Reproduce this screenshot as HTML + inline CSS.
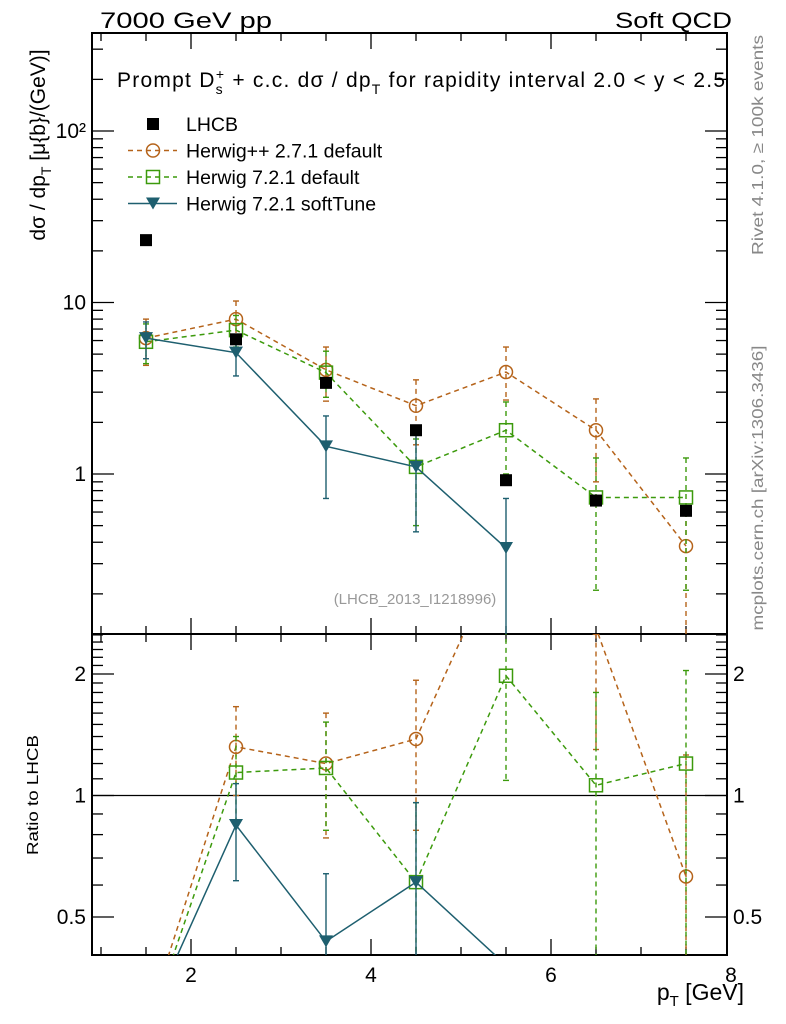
<!DOCTYPE html>
<html><head><meta charset="utf-8"><style>
html,body{margin:0;padding:0;background:#fff;overflow:hidden;width:786px;height:1024px}
svg{display:block;font-family:"Liberation Sans",sans-serif}
</style></head><body>
<svg id="chart" width="786" height="1024" viewBox="0 0 786 1024" xmlns="http://www.w3.org/2000/svg">
<defs>
<clipPath id="cm"><rect x="92" y="33" width="635" height="601"/></clipPath>
<clipPath id="cr"><rect x="92" y="634" width="635" height="321"/></clipPath>
</defs>
<text x="100" y="28" font-size="22" textLength="172" lengthAdjust="spacingAndGlyphs">7000 GeV pp</text>
<text x="732" y="28" font-size="22" text-anchor="end" textLength="117" lengthAdjust="spacingAndGlyphs">Soft QCD</text>
<text transform="translate(763,145) rotate(-90)" font-size="16" fill="#888" text-anchor="middle" textLength="220" lengthAdjust="spacingAndGlyphs">Rivet 4.1.0, ≥ 100k events</text>
<text transform="translate(763,488) rotate(-90)" font-size="16" fill="#888" text-anchor="middle" textLength="285" lengthAdjust="spacingAndGlyphs">mcplots.cern.ch [arXiv:1306.3436]</text>
<text transform="translate(45,145) rotate(-90)" font-size="21" text-anchor="middle">dσ / dp<tspan font-size="14" dy="6">T</tspan><tspan dy="-6"> [μ{b}/(GeV)]</tspan></text>
<text transform="translate(38,795) rotate(-90)" font-size="16" text-anchor="middle" textLength="120" lengthAdjust="spacingAndGlyphs">Ratio to LHCB</text>
<text x="744" y="1000" font-size="23" text-anchor="end">p<tspan font-size="15" dy="6">T</tspan><tspan dy="-6"> [GeV]</tspan></text>
<text x="117" y="87" font-size="21" textLength="608" lengthAdjust="spacing">Prompt D<tspan font-size="14" dy="7">s</tspan><tspan font-size="14" dx="-8" dy="-15">+</tspan><tspan dy="8"> + c.c.  dσ / dp</tspan><tspan font-size="14" dy="7">T</tspan><tspan dy="-7"> for rapidity interval 2.0 &lt; y &lt; 2.5</tspan></text>
<text x="415" y="604" font-size="15" fill="#999" text-anchor="middle">(LHCB_2013_I1218996)</text>
<g id="axes"></g>
<g id="series-main" clip-path="url(#cm)"></g>
<g id="series-ratio" clip-path="url(#cr)"></g>
<g id="legend"></g>
</svg>
<script>
const xs = [1.5, 2.5, 3.5, 4.5, 5.5, 6.5, 7.5];
const lhcb = [23.1, 6.1, 3.4, 1.8, 0.92, 0.70, 0.61];
const hpp = [6.2, 8.0, 4.05, 2.5, 3.93, 1.8, 0.38];
const hppUp = [8.0, 10.2, 5.5, 3.54, 5.5, 2.74, 0.6];
const hppLo = [4.3, 6.2, 2.66, 1.48, 2.7, 0.9, 0.01];
const h72 = [5.9, 6.9, 3.9, 1.1, 1.8, 0.73, 0.73];
const h72Up = [7.5, 8.4, 5.2, 1.6, 2.63, 1.24, 1.24];
const h72Lo = [4.4, 5.5, 2.8, 0.5, 1.0, 0.21, 0.21];
const soft = [6.2, 5.1, 1.45, 1.1, 0.37];
const softUp = [7.7, 6.46, 2.18, 1.73, 0.72];
const softLo = [4.7, 3.73, 0.72, 0.46, 0.01];
const rHpp = [0.27, 1.32, 1.2, 1.38, 4.3, 2.6, 0.63];
const rHppUp = [0.35, 1.66, 1.6, 1.93, 6, 4, 1.26];
const rHppLo = [0.2, 1.0, 0.785, 0.82, 2.9, 1.3, 0.01];
const rH72 = [0.255, 1.14, 1.17, 0.61, 1.98, 1.06, 1.2];
const rH72Up = [0.33, 1.4, 1.52, 0.96, 3, 1.8, 2.04];
const rH72Lo = [0.19, 0.87, 0.82, 0.01, 1.09, 0.01, 0.01];
const rSoft = [0.27, 0.845, 0.435, 0.61, 0.38];
const rSoftUp = [0.33, 1.07, 0.64, 0.96, 0.38];
const rSoftLo = [0.2, 0.615, 0.01, 0.01, 0.38];
const xTicks = [2, 4, 6, 8];
const mainTicks = [1, 10, 100];
const mainTickLabels = ["1", "10", "10²"];
const ratioTicks = [0.5, 1, 2];
const ratioTickLabels = ["0.5", "1", "2"];

const NS = "http://www.w3.org/2000/svg";
const L = 92, R = 727, T = 33, M = 634, B = 955;
const X = v => 191 + (v - 2) * 90;
const Y = v => 474 - Math.log10(v) * 171.5;
const YR = v => 795.5 - Math.log2(v) * 121.5;
function mk(tag, attrs, parent) {
  const e = document.createElementNS(NS, tag);
  for (const k in attrs) e.setAttribute(k, attrs[k]);
  parent.appendChild(e);
  return e;
}
const ax = document.getElementById('axes');
const frameM = mk('rect', {x: L, y: T, width: R - L, height: M - T, fill: 'none', stroke: '#000', 'stroke-width': 2}, ax);


const frameR = mk('rect', {x: L, y: M, width: R - L, height: B - M, fill: 'none', stroke: '#000', 'stroke-width': 2}, ax);


for (let v = 1; v <= 7.9; v += 0.5) {
  const major = Number.isInteger(v / 2);
  const len = major ? 16 : 8;
  const x = X(v);
  for (const [y0, dir] of [[T, 1], [M, -1], [M, 1], [B, -1]]) {
    mk('line', {x1: x, x2: x, y1: y0, y2: y0 + dir * len, stroke: '#000', 'stroke-width': 1.3}, ax);
  }
}
xTicks.forEach(v => {
  const t = mk('text', {x: X(v), y: 982, 'font-size': 21, 'text-anchor': 'middle'}, ax);
  t.textContent = v;
  
  
});
for (let d = -1; d <= 2; d++) {
  for (let m = 1; m <= 9; m++) {
    const v = m * Math.pow(10, d);
    const y = Y(v);
    if (y < T || y > M) continue;
    const len = m === 1 ? 22 : 11;
    mk('line', {x1: L, x2: L + len, y1: y, y2: y, stroke: '#000', 'stroke-width': 1.3}, ax);
    mk('line', {x1: R, x2: R - len, y1: y, y2: y, stroke: '#000', 'stroke-width': 1.3}, ax);
  }
}
mainTicks.forEach((v, i) => {
  const t = mk('text', {x: 86, y: Y(v) + 7, 'font-size': 21, 'text-anchor': 'end'}, ax);
  t.textContent = mainTickLabels[i];
  
  
});
for (let k = 4; k <= 25; k++) {
  const v = k / 10;
  const y = YR(v);
  if (y < M || y > B) continue;
  const major = (k === 5 || k === 10 || k === 20);
  const len = major ? 22 : 11;
  mk('line', {x1: L, x2: L + len, y1: y, y2: y, stroke: '#000', 'stroke-width': 1.3}, ax);
  mk('line', {x1: R, x2: R - len, y1: y, y2: y, stroke: '#000', 'stroke-width': 1.3}, ax);
}
ratioTicks.forEach((v, i) => {
  const t = mk('text', {x: 86, y: YR(v) + 7, 'font-size': 21, 'text-anchor': 'end'}, ax);
  t.textContent = ratioTickLabels[i];
  
  
  const t2 = mk('text', {x: 733, y: YR(v) + 7, 'font-size': 21}, ax);
  t2.textContent = ratioTickLabels[i];
  
  
});
const unity = mk('line', {x1: L, x2: R, y1: YR(1), y2: YR(1), stroke: '#000', 'stroke-width': 1.3}, ax);



function marker(type, x, y, col, g) {
  if (type === 'square') return mk('rect', {x: x - 6, y: y - 6, width: 12, height: 12, fill: '#000'}, g);
  if (type === 'circle') return mk('circle', {cx: x, cy: y, r: 6.5, fill: 'none', stroke: col, 'stroke-width': 1.5}, g);
  if (type === 'osq') return mk('rect', {x: x - 6.5, y: y - 6.5, width: 13, height: 13, fill: 'none', stroke: col, 'stroke-width': 1.5}, g);
  return mk('path', {d: `M${x - 7},${y - 6} L${x + 7},${y - 6} L${x},${y + 6} Z`, fill: col}, g);
}
function series(parent, name, vals, up, lo, ys, col, dash, type) {
  const g = mk('g', {}, parent);
  
  
  const pts = vals.map((v, i) => [X(xs[i]), ys(v)]);
  if (type !== 'square') {
    const pl = mk('polyline', {points: pts.map(p => p.join(',')).join(' '), fill: 'none', stroke: col, 'stroke-width': 1.5, 'stroke-dasharray': dash}, g);
    
    
  }
  vals.forEach((v, i) => {
    const x = X(xs[i]);
    if (up && up[i] !== lo[i]) {
      const eb = mk('line', {x1: x, x2: x, y1: ys(up[i]), y2: ys(lo[i]), stroke: col, 'stroke-width': 1.4, 'stroke-dasharray': dash}, g);
      
      
      mk('line', {x1: x - 3, x2: x + 3, y1: ys(up[i]), y2: ys(up[i]), stroke: col, 'stroke-width': 1.4}, g);
      mk('line', {x1: x - 3, x2: x + 3, y1: ys(lo[i]), y2: ys(lo[i]), stroke: col, 'stroke-width': 1.4}, g);
    }
    const m = marker(type, x, ys(v), col, g);
    
    
  });
}
const CH = '#b5631a', CG = '#3c9a0c', CS = '#1e5f6f';
const gm = document.getElementById('series-main');
series(gm, 'herwig-pp-271', hpp, hppUp, hppLo, Y, CH, '5,4', 'circle');
series(gm, 'herwig-721-default', h72, h72Up, h72Lo, Y, CG, '5,4', 'osq');
series(gm, 'herwig-721-softtune', soft, softUp, softLo, Y, CS, 'none', 'tri');
series(gm, 'lhcb-data', lhcb, null, null, Y, '#000', 'none', 'square');
const gr = document.getElementById('series-ratio');
series(gr, 'ratio-herwig-pp-271', rHpp, rHppUp, rHppLo, YR, CH, '5,4', 'circle');
series(gr, 'ratio-herwig-721-default', rH72, rH72Up, rH72Lo, YR, CG, '5,4', 'osq');
series(gr, 'ratio-herwig-721-softtune', rSoft, rSoftUp, rSoftLo, YR, CS, 'none', 'tri');

const lg = document.getElementById('legend');
const entries = [['LHCB', 'square', '#000', 'none'], ['Herwig++ 2.7.1 default', 'circle', CH, '5,4'], ['Herwig 7.2.1 default', 'osq', CG, '5,4'], ['Herwig 7.2.1 softTune', 'tri', CS, 'none']];
entries.forEach((e, i) => {
  const y = 124 + i * 26.5;
  const g = mk('g', {}, lg);
  
  
  if (e[1] !== 'square') mk('line', {x1: 128, x2: 177, y1: y, y2: y, stroke: e[2], 'stroke-width': 1.5, 'stroke-dasharray': e[3]}, g);
  marker(e[1], 153, y, e[2], g);
  const t = mk('text', {x: 186, y: y + 7, 'font-size': 19.5}, g);
  t.textContent = e[0];
});
</script>
</body></html>
